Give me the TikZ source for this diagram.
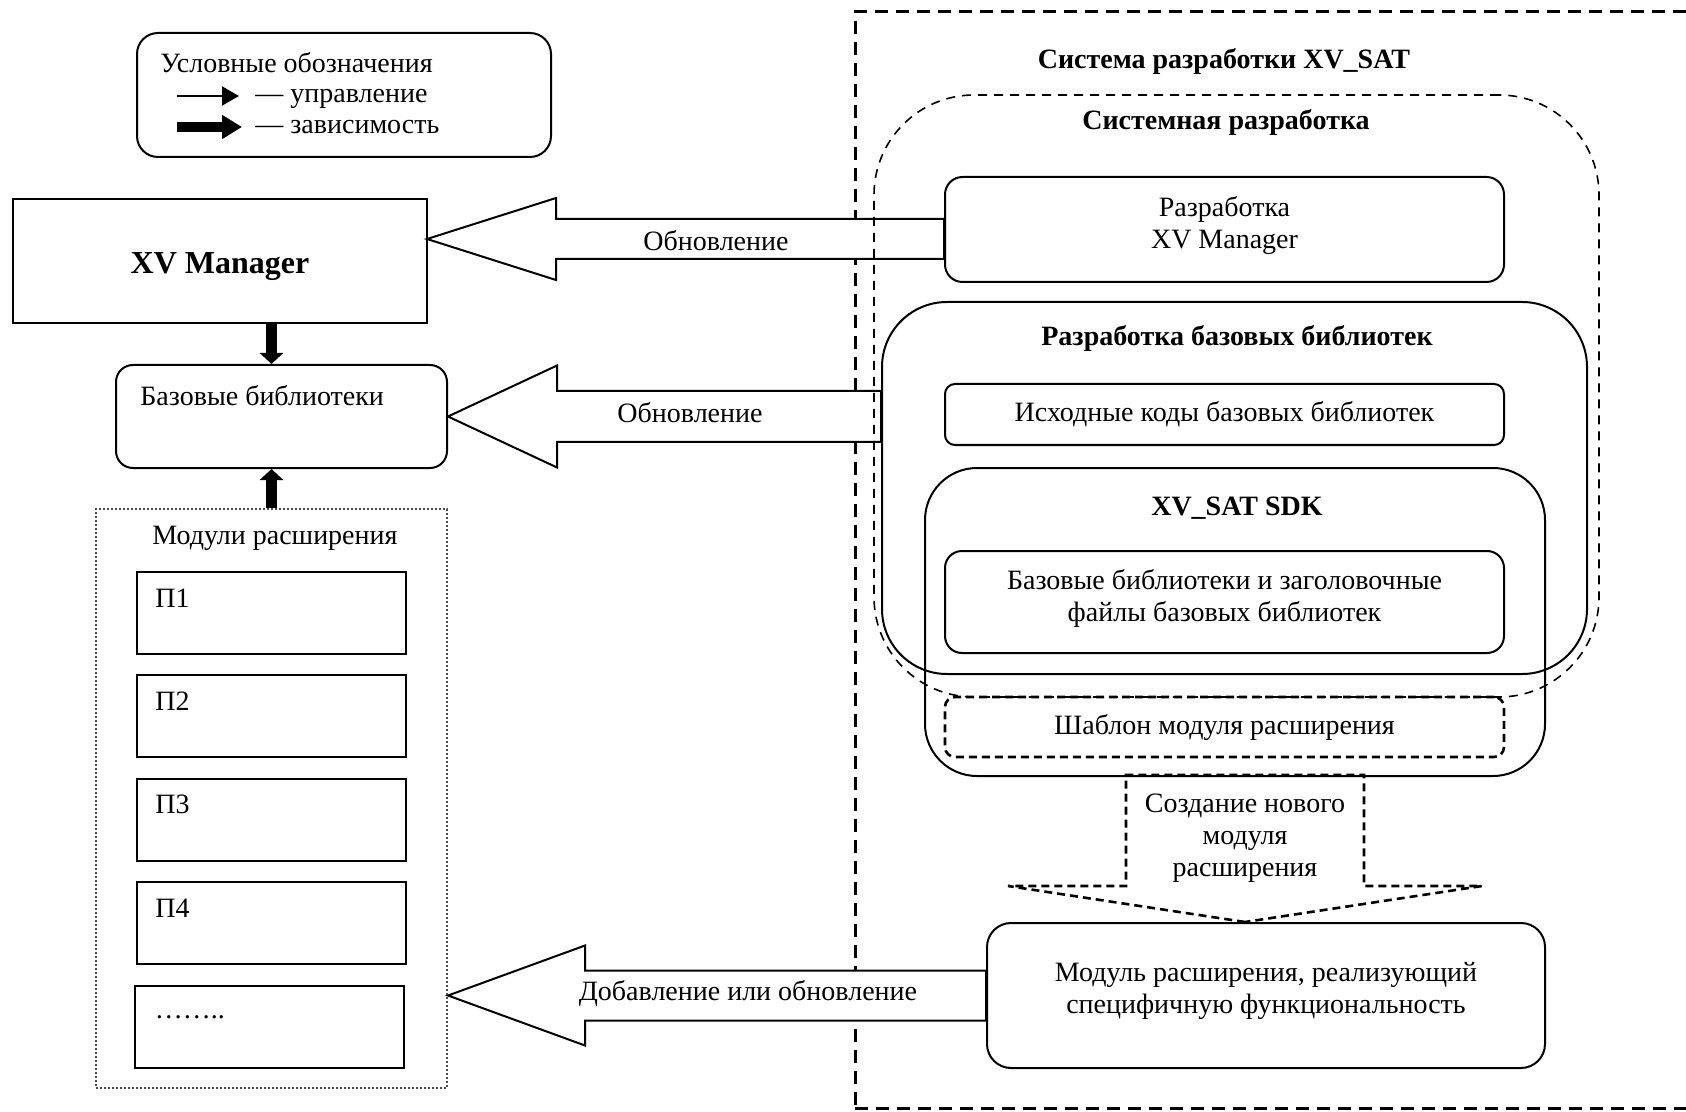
\documentclass[tikz,border=0pt]{standalone}
\usepackage{fontspec}
\setmainfont{Liberation Serif}
\usetikzlibrary{positioning,calc,arrows.meta,backgrounds}

\begin{document}
\begin{tikzpicture}[x=0.5pt,y=-0.5pt,node distance=51.7pt,on grid,
    every node/.style={font=\fontsize{14}{16}\selectfont,inner sep=0pt},
    head/.style={font=\fontsize{14}{16}\selectfont\bfseries},
    box/.style={draw,line width=1pt,rectangle},
    rbox/.style={box,rounded corners=#1},
    pbox/.style={box,minimum width=134.5pt,minimum height=41pt},
    bigarr/.style={draw,line width=1pt,fill=white,line join=miter},
    dep/.style={line width=5.5pt,-{Triangle[length=5.5pt,width=11.5pt]}}]
  \useasboundingbox (0,0) rectangle (1686,1112);

  \node[rbox=10.5pt,minimum width=207pt,minimum height=62pt] (legend) at (344,95) {};
  \node[anchor=base west] (leg_title) at (160,73) {Условные обозначения};
  \coordinate (ctl_a) at (177,96);
  \coordinate (ctl_b) at (239,96);
  \node[anchor=base west] (ctl_txt) at (255,103) {— управление};
  \coordinate (dep_a) at (177,127);
  \coordinate (dep_b) at (242,127);
  \node[anchor=base west] (dep_txt) at (255,134) {— зависимость};
  \draw[line width=1pt,-{Triangle[length=8.5pt,width=9.5pt]}] (ctl_a) -- (ctl_b);
  \draw[line width=5pt,-{Triangle[length=10pt,width=11.5pt]}] (dep_a) -- (dep_b);

  \node[box,minimum width=207pt,minimum height=62pt] (xv_mgr) at (220,261) {};
  \node[font=\fontsize{16}{18}\selectfont\bfseries] (xv_mgr_txt) at (220,267) {XV Manager};
  \node[rbox=8.5pt,minimum width=165.5pt,minimum height=51.5pt] (base_lib) at (281.5,416.5) {};
  \node[anchor=base west] (base_lib_txt) at (140,406) {Базовые библиотеки};
  \node[draw=black!70,line width=1pt,densely dotted,minimum width=175.5pt,
        minimum height=289.5pt] (ext_mods) at (271.5,798.5) {};
  \node (ext_mods_txt) at (275,538) {Модули расширения};

  \node[pbox] (p_1) at (271.5,613) {};
  \foreach \i/\j in {2/1,3/2,4/3}
    \node[pbox,below=of p_\j] (p_\i) {};
  \node[pbox,below=of p_4,xshift=-1.25pt] (p_5) {};
  \foreach \i in {1,...,4}
    \node[anchor=base west] (p_\i_txt) at ([shift={(19,36)}]p_\i.north west) {П\i};
  \node[anchor=base west] (p_5_txt) at ([shift={(21,34)}]p_5.north west) {……..};

  \draw[dep] (xv_mgr.south -| ext_mods.north) -- (base_lib.north -| ext_mods.north);
  \draw[dep] (ext_mods.north) -- (base_lib.south -| ext_mods.north);

  \node[head] (xv_sat_txt) at (1224,61) {Система разработки XV\_SAT};
  \node[draw,line width=0.8pt,dash pattern=on 4.5pt off 3.5pt,rounded corners=50pt,
        minimum width=362.5pt,minimum height=301pt] (sys_dev) at (1236.5,396) {};
  \node[head] (sys_dev_txt) at (1226,122) {Системная разработка};
  \node[rbox=8.75pt,minimum width=279.5pt,minimum height=52.5pt] (dev_mgr) at (1224.5,229.5) {};
  \node[align=center] (dev_mgr_txt) at (1224.5,225.5) {Разработка\\XV Manager};
  \node[rbox=32.5pt,minimum width=352.5pt,minimum height=186pt] (lib_dev) at (1234.5,488) {};
  \node[head] (lib_dev_txt) at (1237,338) {Разработка базовых библиотек};
  \node[rbox=5pt,minimum width=279.5pt,minimum height=30.5pt]
       (src_code) at (1224.5,414.5) {Исходные коды базовых библиотек};
  \node[rbox=26pt,minimum width=310pt,minimum height=154pt] (sdk) at (1235,622) {};
  \node[head] (sdk_txt) at (1237,508) {XV\_SAT SDK};
  \node[rbox=8.5pt,minimum width=279.5pt,minimum height=51pt] (hdr_files) at (1224.5,602) {};
  \node[align=center] (hdr_files_txt) at (1224.5,598)
       {Базовые библиотеки и заголовочные\\файлы базовых библиотек};
  \node[rbox=5pt,line width=1.3pt,dash pattern=on 4pt off 2.5pt,
        minimum width=279.5pt,minimum height=30pt] (tmpl) at (1224.5,727) {Шаблон модуля расширения};
  \node[rbox=12pt,minimum width=279pt,minimum height=72.5pt] (ext_mod) at (1266,995.5) {};
  \node[align=center] (ext_mod_txt) at (1266,991)
       {Модуль расширения, реализующий\\специфичную функциональность};

  \coordinate (new_tip) at ([xshift=-10.5pt]ext_mod.north);
  \draw[line width=1.3pt,dash pattern=on 4pt off 2.5pt,line join=miter]
    (new_tip) -- ++(-237,-36) -- ++(118,0) -- ++(0,-111) -- ++(238,0)
    -- ++(0,111) -- ++(118,0) -- cycle;
  \node[align=center] (new_txt) at (1245,838) {Создание нового\\модуля\\расширения};

  \begin{scope}[on background layer]
    \node[draw,line width=1.5pt,dash pattern=on 6.5pt off 4pt,minimum width=432.5pt,
          minimum height=548pt] (xv_sat) at (1287.5,560) {};
    \coordinate (upd_tip) at (427,239);
    \draw[bigarr] (upd_tip) -- ++(129,-41) -- ++(0,21) -- ($(upd_tip -| dev_mgr.west)+(0,-20)$)
      -- ++(0,40) -- ($(upd_tip)+(129,20)$) -- ++(0,21) -- cycle;
    \draw[bigarr] (base_lib.east) -- ++(109,-51) -- ++(0,25.5)
      -- ($(base_lib.east -| lib_dev.west)+(0,-25.5)$) -- ++(0,51)
      -- ($(base_lib.east)+(109,25.5)$) -- ++(0,25.5) -- cycle;
    \coordinate (add_tip) at (ext_mods.east |- ext_mod.west);
    \draw[bigarr] (add_tip) -- ++(137,-50) -- ++(0,25) -- ($(ext_mod.west)+(0,-25)$)
      -- ++(0,50) -- ($(add_tip)+(137,25)$) -- ++(0,25) -- cycle;
  \end{scope}
  \node (upd_txt_a) at (716,241) {Обновление};
  \node (upd_txt_b) at (690,413) {Обновление};
  \node (add_txt) at (748,993) {Добавление или обновление};
\end{tikzpicture}
\end{document}
